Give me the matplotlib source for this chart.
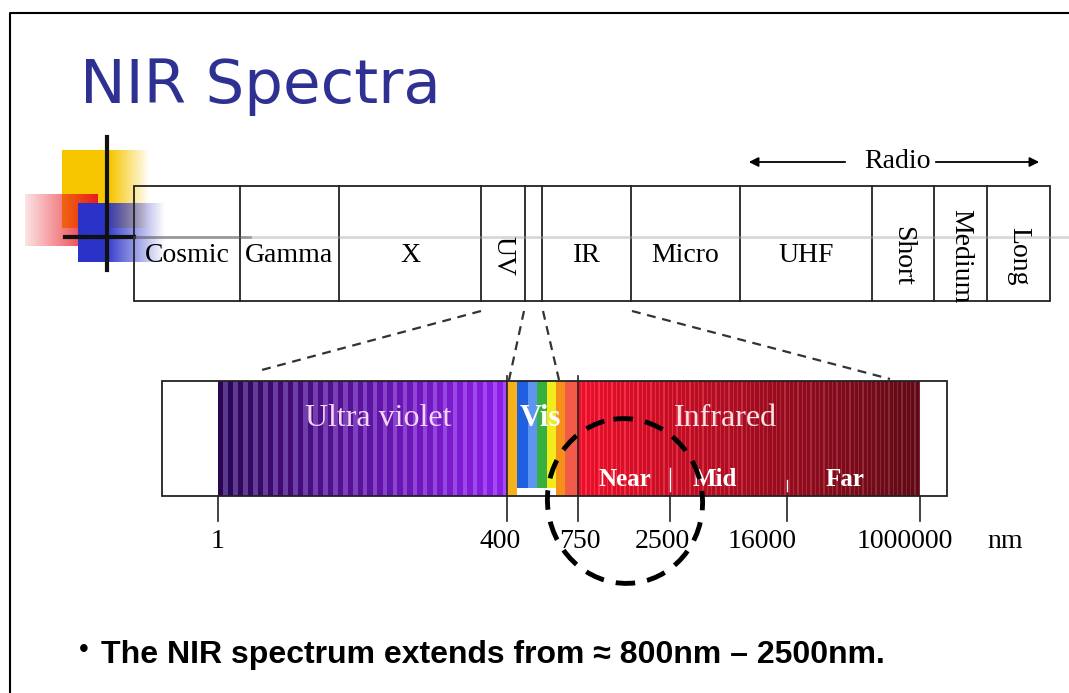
import numpy as np
import matplotlib.pyplot as plt
from matplotlib.patches import Rectangle, Ellipse
from matplotlib.colors import to_rgb

# electromagnetic bands in the top strip, left to right
band_names = ["Cosmic", "Gamma", "X", "UV", "", "IR", "Micro", "UHF", "Short", "Medium", "Long"]
band_edges = [134, 240, 339, 481, 525, 542, 631, 740, 872, 934, 987, 1050]
band_rotated = [False, False, False, True, False, False, False, False, True, True, True]

# wavelength scale under the zoomed bar (nm)
wl_ticks = ["1", "400", "750", "2500", "16000", "1000000"]
wl_pos = [218, 507, 578, 670, 787, 920]
wl_label_x = [218, 500, 580, 662, 762, 905]

# visible slice colours
vis_colors = ["#f5b21a", "#1f5fe0", "#5e95f0", "#38b040", "#f2ec1a", "#f7901a", "#f25a4a"]
vis_edges = [507, 517, 528, 537, 547, 556, 565, 578]

ir_sub = ["Near", "Mid", "Far"]
ir_sub_x = [625, 715, 845]

serif = "Liberation Serif"

fig = plt.figure(figsize=(10.69, 6.93), dpi=100)
ax = fig.add_axes([0, 0, 1, 1])
ax.axis("off")


def grad_rect(x0, x1, y0, y1, color, a_left, a_right, solid_frac=0.0):
    # horizontal alpha ramp
    n = 200
    t = np.linspace(0, 1, n)
    a = np.where(t < solid_frac, a_left,
                 a_left + (a_right - a_left) * (t - solid_frac) / max(1e-6, 1 - solid_frac))
    img = np.zeros((1, n, 4))
    img[0, :, :3] = to_rgb(color)
    img[0, :, 3] = np.clip(a, 0, 1)
    ax.imshow(img, extent=(x0, x1, y1, y0), aspect="auto", interpolation="bilinear", zorder=1)


# slide frame
ax.plot([10, 10, 1069], [693, 13, 13], color="black", lw=1.5)

ax.text(80, 103, "NIR Spectra", fontsize=44, color="#2e3192", family="DejaVu Sans",
        ha="left", va="baseline")

# corner decoration
grad_rect(62, 150, 150, 228, "#f7c600", 1.0, 0.0, solid_frac=0.55)
grad_rect(25, 98, 194, 246, "#e8141e", 0.12, 0.95)
grad_rect(78, 165, 203, 262, "#2a32c8", 1.0, 0.0, solid_frac=0.3)
ax.plot([107, 107], [137, 270], color="#111111", lw=3, zorder=3)
ax.plot([65, 134], [237, 237], color="#111111", lw=3, zorder=3)
ax.plot([134, 250], [237, 237], color="#555555", lw=2, alpha=0.6, zorder=3)
ax.plot([250, 1069], [237, 237], color="#aaaaaa", lw=2, alpha=0.45, zorder=3)

# top band strip
ax.add_patch(Rectangle((band_edges[0], 186), band_edges[-1] - band_edges[0], 115,
                       fill=False, ec="#222222", lw=1.3, zorder=2))
for x in band_edges[1:-1]:
    ax.plot([x, x], [186, 301], color="#222222", lw=1.3, zorder=2)
for i, name in enumerate(band_names):
    cx = (band_edges[i] + band_edges[i + 1]) / 2
    if band_rotated[i]:
        ax.text(cx, 256, name, rotation=270, fontsize=20, family=serif,
                ha="center", va="center", zorder=4)
    else:
        ax.text(cx, 256, name, fontsize=20, family=serif, ha="center", va="center", zorder=4)

# radio span arrows
ax.text(897, 161, "Radio", fontsize=20, family=serif, ha="center", va="center")
ax.annotate("", xy=(746, 162), xytext=(848, 162),
            arrowprops=dict(arrowstyle="-|>", color="black", lw=1.3, mutation_scale=14))
ax.annotate("", xy=(1042, 162), xytext=(933, 162),
            arrowprops=dict(arrowstyle="-|>", color="black", lw=1.3, mutation_scale=14))

# zoom guide lines
dash = dict(color="#333333", lw=1.6, ls=(0, (4, 3)))
ax.plot([481, 258], [311, 371], **dash)
ax.plot([524, 509], [311, 380], **dash)
ax.plot([543, 559], [311, 380], **dash)
ax.plot([632, 890], [311, 379], **dash)

# zoomed spectrum bar
y0, y1 = 381, 496
ax.add_patch(Rectangle((162, y0), 947 - 162, y1 - y0, fill=False, ec="#222222", lw=1.3, zorder=2))

# ultraviolet stripes
uv_x = np.linspace(218, 507, 30)
dark0, dark1 = np.array(to_rgb("#2a0652")), np.array(to_rgb("#8a1ee6"))
lite0, lite1 = np.array(to_rgb("#5a3a8c")), np.array(to_rgb("#a848f8"))
for k in range(len(uv_x) - 1):
    t = k / (len(uv_x) - 2)
    w = uv_x[k + 1] - uv_x[k]
    ax.add_patch(Rectangle((uv_x[k], y0), w * 0.55, y1 - y0,
                           color=dark0 + (dark1 - dark0) * t, lw=0, zorder=1))
    ax.add_patch(Rectangle((uv_x[k] + w * 0.55, y0), w * 0.45 + 0.3, y1 - y0,
                           color=lite0 + (lite1 - lite0) * t, lw=0, zorder=1))

# visible colours
for c, xa, xb in zip(vis_colors, vis_edges[:-1], vis_edges[1:]):
    ax.add_patch(Rectangle((xa, y0), xb - xa + 0.3, y1 - y0, color=c, lw=0, zorder=1))
ax.add_patch(Rectangle((517, 488), 39, 8, color="white", lw=0, zorder=1.5))

# infrared stripes
ir_x = np.linspace(578, 920, 80)
red0, red1 = np.array(to_rgb("#e8102a")), np.array(to_rgb("#5e0a16"))
for k in range(len(ir_x) - 1):
    t = k / (len(ir_x) - 2)
    w = ir_x[k + 1] - ir_x[k]
    base = red0 + (red1 - red0) * t
    ax.add_patch(Rectangle((ir_x[k], y0), w + 0.3, y1 - y0, color=base, lw=0, zorder=1))
    ax.add_patch(Rectangle((ir_x[k] + w * 0.7, y0), w * 0.3, y1 - y0,
                           color=np.clip(base + 0.12, 0, 1), lw=0, zorder=1))

ax.text(378, 418, "Ultra violet", fontsize=23, family=serif, color="#f3d6f3",
        ha="center", va="center", zorder=4)
ax.text(540, 418, "Vis", fontsize=22, family=serif, color="white", weight="bold",
        ha="center", va="center", zorder=4)
ax.text(725, 418, "Infrared", fontsize=23, family=serif, color="#fbe0e6",
        ha="center", va="center", zorder=4)
for name, x in zip(ir_sub, ir_sub_x):
    ax.text(x, 480, name, fontsize=18, family=serif, color="white", weight="bold",
            ha="center", va="center", zorder=4)
ax.plot([670, 670], [468, 491], color="white", lw=1, zorder=3)
ax.plot([787, 787], [480, 491], color="white", lw=1, zorder=3)

# wavelength ticks
for lab, x, lx in zip(wl_ticks, wl_pos, wl_label_x):
    top = 376 if lab in ("400", "750") else y1
    ax.plot([x, x], [top, 521], color="#222222", lw=1.2, zorder=3)
    ax.text(lx, 541, lab, fontsize=20, family=serif, ha="center", va="center")
ax.text(1005, 541, "nm", fontsize=20, family=serif, ha="center", va="center")

# near-infrared highlight
ax.add_patch(Ellipse((625, 501), 155, 165, angle=-8, fill=False, ec="black", lw=3.5,
                     ls=(0, (4, 2.5)), zorder=5))

ax.text(79, 657, "\u2022", fontsize=20, family="Liberation Sans", ha="left", va="baseline")
ax.text(101, 663, "The NIR spectrum extends from \u2248 800nm \u2013 2500nm.", fontsize=23,
        family="Liberation Sans", weight="bold", ha="left", va="baseline")

ax.set_xlim(0, 1069)
ax.set_ylim(693, 0)
fig.savefig("out.png", dpi=100)
